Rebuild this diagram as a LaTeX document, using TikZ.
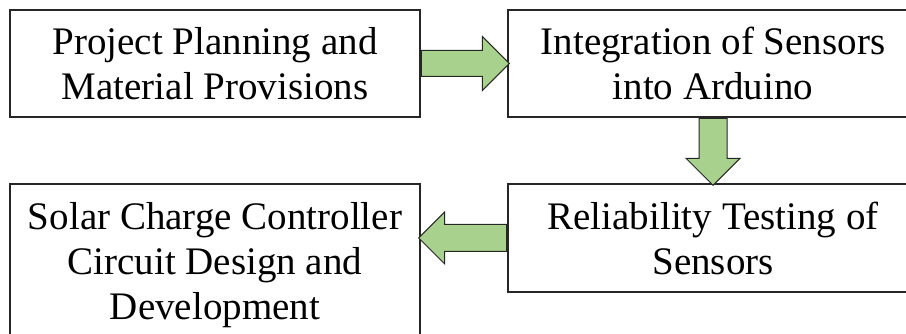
\documentclass[tikz,border=0pt]{standalone}
\usepackage{fontspec}
\setmainfont{Liberation Serif}
\usetikzlibrary{shapes.arrows}

\definecolor{arrowgreen}{HTML}{A9D18E}
\definecolor{edgegray}{HTML}{262626}

\tikzset{
    stagebox/.style={draw=edgegray, line width=1.6pt, minimum width=410pt,
        inner sep=0pt, align=center, font=\fontsize{39}{45}\selectfont},
    flowarrow/.style={single arrow, draw=edgegray, line width=1pt, fill=arrowgreen,
        inner xsep=0pt, inner ysep=12.5pt, single arrow head extend=14pt,
        single arrow tip angle=90, anchor=tail}
}

\begin{document}
\begin{tikzpicture}[x=1pt,y=1pt]

    % Page frame (same size as the picture)
    \useasboundingbox (0,0) rectangle (906,334);

    % Top row of stages
    \node[stagebox, minimum height=107pt] (plan) at (215,270.5) {Project Planning and\\Material Provisions};
    \node[stagebox, minimum height=107pt] (integ) at (713,270.5) {Integration of Sensors\\into Arduino};

    % Bottom row of stages
    \node[stagebox, minimum height=108pt] (relia) at (713,96) {Reliability Testing of\\Sensors};
    \node[stagebox, minimum height=162pt] (solar) at (215,69) {Solar Charge Controller\\Circuit Design and\\Development};

    % Green block arrow from planning to integration
    \node[flowarrow, minimum height=88pt] (planToInteg) at (plan.east) {};

    % Green block arrow going down to testing
    \node[flowarrow, minimum height=67pt, inner ysep=13.5pt, single arrow head extend=13pt, rotate=-90] (integToRelia) at (integ.south) {};

    % Green block arrow going back to the controller design
    \node[flowarrow, minimum height=88pt, inner ysep=13pt, single arrow head extend=12.5pt, rotate=180] (reliaToSolar) at (relia.west) {};

\end{tikzpicture}
\end{document}
